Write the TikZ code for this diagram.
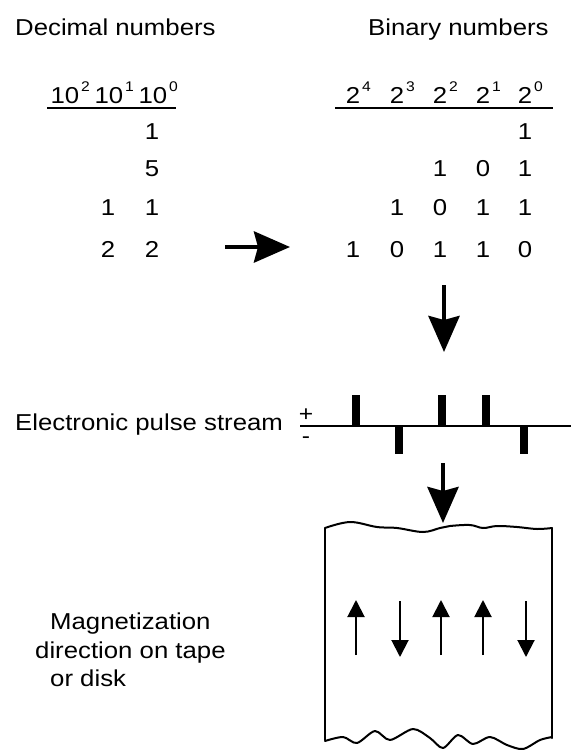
\documentclass[tikz,border=0pt]{standalone}
\usepackage{fontspec}
\setmainfont{Liberation Sans}[FakeStretch=1.12]
\usetikzlibrary{arrows.meta}
\begin{document}
\begin{tikzpicture}[x=1pt,y=-1pt,
  lbl/.style={anchor=base west,inner sep=0pt,font=\fontsize{23}{26}\selectfont},
  dig/.style={anchor=base,inner sep=0pt,font=\fontsize{23}{26}\selectfont},
  sup/.style={anchor=base west,inner sep=0pt,font=\fontsize{14}{16}\selectfont},
  sgn/.style={inner sep=0pt,font=\fontsize{22}{24}\selectfont},
  big/.style={line width=4.5pt,-{Stealth[length=36pt,width=31pt,inset=4pt]}},
  mag/.style={line width=2pt,-{Triangle[length=17pt,width=17pt]}},
  rulel/.style={line width=1.8pt},
  tape/.style={line width=2pt,line join=round,line cap=round},
]
\useasboundingbox (0,0) rectangle (571,750);

% titles
\node[lbl] (dect) at (15,35) {Decimal numbers};
\node[lbl] (bint) at (368,35) {Binary numbers};

% decimal header
\foreach \p/\x in {2/65,1/109,0/153} {
  \node[dig] (d\p) at (\x,103) {10};
  \node[sup] (ds\p) at ([xshift=1.5pt,yshift=12pt]d\p.base east) {\p};
}
\draw[rulel] (47,108) -- (176,108);

% decimal digits
\node[dig] (da1) at (152,139) {1};
\node[dig] (da2) at (152,176) {5};
\node[dig] (db3) at (108,215) {1};
\node[dig] (da3) at (152,215) {1};
\node[dig] (db4) at (108,257) {2};
\node[dig] (da4) at (152,257) {2};

% binary header
\foreach \p/\x in {4/353,3/397,2/440,1/483,0/525} {
  \node[dig] (b\p) at (\x,103) {2};
  \node[sup] (bs\p) at ([xshift=1.5pt,yshift=12pt]b\p.base east) {\p};
}
\draw[rulel] (335,108) -- (553,108);

% binary rows
\node[dig] (r1c0) at (525,139) {1};
\foreach \v/\x [count=\i] in {1/440,0/483,1/525} \node[dig] (r2c\i) at (\x,176) {\v};
\foreach \v/\x [count=\i] in {1/397,0/440,1/483,1/525} \node[dig] (r3c\i) at (\x,215) {\v};
\foreach \v/\x [count=\i] in {1/353,0/397,1/440,1/483,0/525} \node[dig] (r4c\i) at (\x,257) {\v};

% big arrows
\coordinate (ra0) at (225,247); \coordinate (ra1) at (290,247);
\draw[big] (ra0) -- (ra1);
\coordinate (da0) at (444,285); \coordinate (dd1) at (444,352);
\draw[big] (da0) -- (dd1);
\coordinate (db0) at (443,463); \coordinate (db1) at (443,523);
\draw[big] (db0) -- (db1);

% pulse stream
\node[lbl] (pst) at (15,430) {Electronic pulse stream};
\node[sgn] (plus) at (306,415) {+};
\node[sgn] (minus) at (306,440) {-};
\draw[line width=1.6pt] (300,426) -- (571,426);
\foreach \x in {356,442,486} \fill (\x-4,395) rectangle (\x+4,426);
\foreach \x in {399,524} \fill (\x-4,426) rectangle (\x+4,454);

% tape
\draw[tape] plot[smooth,tension=0.6] coordinates {(325,528)(350,522)(377,527)(397,528)(423,532)(440,528)(450,526)(470,525)(483,528)(497,526)(517,527)(537,529)(552,528)};
\draw[tape] (325,528) -- (325,740);
\draw[tape] (552,528) -- (552,738);
\draw[tape] plot[smooth,tension=0.5] coordinates {(325,741)(343,737)(357,743)(375,731)(390,740)(413,729)(430,738)(443,748)(458,735)(473,744)(490,737)(507,745)(523,749)(540,740)(552,737)};

% magnetization arrows
\foreach \x in {356,441,483} {
  \coordinate (mu\x) at (\x,655); \coordinate (mt\x) at (\x,600);
  \draw[mag] (mu\x) -- (mt\x);
}
\foreach \x in {400,526} {
  \coordinate (mu\x) at (\x,601); \coordinate (mt\x) at (\x,657);
  \draw[mag] (mu\x) -- (mt\x);
}

% magnetization label
\node[lbl] (m1) at (50,629) {Magnetization};
\node[lbl] (m2) at (35,658) {direction on tape};
\node[lbl] (m3) at (50,686) {or disk};
\end{tikzpicture}
\end{document}
